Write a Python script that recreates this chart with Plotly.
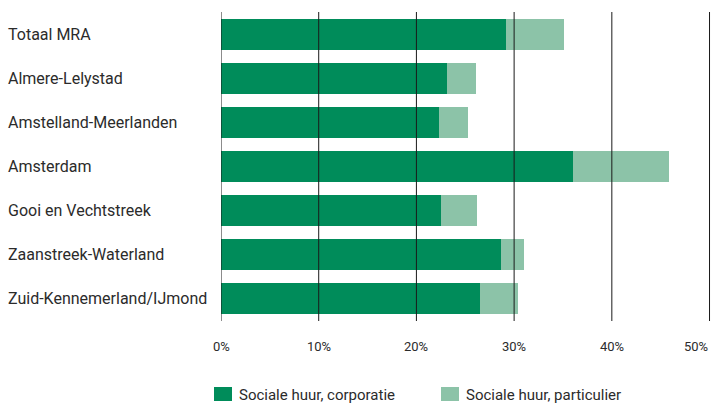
import plotly.graph_objects as go

# Share of social rental housing per region (%)
regions = [
    "Totaal MRA",
    "Almere-Lelystad",
    "Amstelland-Meerlanden",
    "Amsterdam",
    "Gooi en Vechtstreek",
    "Zaanstreek-Waterland",
    "Zuid-Kennemerland/IJmond",
]
corporatie = [29.2, 23.1, 22.3, 36.0, 22.5, 28.7, 26.5]
particulier = [5.9, 3.0, 3.0, 9.9, 3.7, 2.3, 3.9]

series_names = ["Sociale huur, corporatie", "Sociale huur, particulier"]
series_colors = ["#008C5A", "#8CC3A8"]

x_ticks = [0, 10, 20, 30, 40, 50]
x_tick_labels = ["0%", "10%", "20%", "30%", "40%", "50%"]

FONT = "Roboto"
TEXT_COLOR = "#2b2b2b"

W, H = 711, 405
ML, MR, MT, MB = 221, 0, 12, 84
PW, PH = W - ML - MR, H - MT - MB


def px_x(px):
    return (px - ML) / PW


def px_y(py):
    return (H - MB - py) / PH


fig = go.Figure()
for name, vals, col in zip(series_names, [corporatie, particulier], series_colors):
    fig.add_trace(go.Bar(
        y=regions, x=vals, name=name, orientation="h",
        marker=dict(color=col, line=dict(width=0)),
        showlegend=False, hoverinfo="x+y",
    ))

shapes = []
annotations = []

# vertical gridlines drawn over the bars
for t in x_ticks:
    shapes.append(dict(type="line", xref="x", yref="paper", x0=t, x1=t, y0=0, y1=1,
                       line=dict(color="#1a1a1a", width=1), layer="above"))

# x tick labels
for i, (t, lab) in enumerate(zip(x_ticks, x_tick_labels)):
    last = i == len(x_ticks) - 1
    annotations.append(dict(x=t, xref="x", y=px_y(346), yref="paper", text=lab,
                            showarrow=False, xanchor="right" if last else "center",
                            yanchor="middle",
                            font=dict(family=FONT, size=13, color=TEXT_COLOR)))

# category labels, left aligned
for r in regions:
    annotations.append(dict(x=px_x(6), xref="paper", y=r, yref="y", text=r,
                            showarrow=False, xanchor="left", yanchor="middle",
                            font=dict(family=FONT, size=16, color=TEXT_COLOR)))

# legend
legend_items = [(214, 237), (441, 464)]
for (sx, tx), name, col in zip(legend_items, series_names, series_colors):
    shapes.append(dict(type="rect", xref="paper", yref="paper",
                       x0=px_x(sx), x1=px_x(sx + 18), y0=px_y(401), y1=px_y(387),
                       fillcolor=col, line=dict(width=0)))
    annotations.append(dict(x=px_x(tx), xref="paper", y=px_y(395), yref="paper",
                            text=name, showarrow=False, xanchor="left", yanchor="middle",
                            font=dict(family=FONT, size=15, color=TEXT_COLOR)))

fig.update_layout(
    width=W, height=H,
    margin=dict(l=ML, r=MR, t=MT, b=MB, pad=0),
    barmode="stack", bargap=0.3,
    plot_bgcolor="white", paper_bgcolor="white",
    xaxis=dict(range=[0, 50.15], showgrid=False, zeroline=False,
               showticklabels=False, ticks="", fixedrange=True),
    yaxis=dict(autorange="reversed", showgrid=False, zeroline=False,
               showticklabels=False, ticks="", fixedrange=True),
    shapes=shapes, annotations=annotations,
    font=dict(family=FONT, color=TEXT_COLOR),
)

fig.write_html("out.html")
